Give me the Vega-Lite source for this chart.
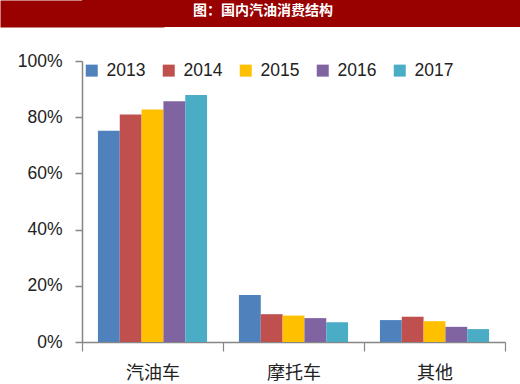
{
  "$schema": "https://vega.github.io/schema/vega-lite/v6.json",
  "padding": 0,
  "background": "white",
  "spacing": 25,
  "resolve": {"legend": {"color": "independent"}},
  "config": {
    "view": {"stroke": null},
    "axis": {"grid": false}
  },
  "vconcat": [
    {
      "width": 438,
      "height": 27,
      "view": {"fill": "#990000", "stroke": null},
      "data": {"values": [{"t": "图：国内汽油消费结构"}]},
      "mark": {"type": "text", "color": "white", "font": "Noto Sans CJK SC", "fontSize": 14, "fontWeight": "bold", "dx": -38, "dy": -3},
      "encoding": {
        "text": {"field": "t", "type": "nominal"},
        "y": {
          "field": "t", "type": "nominal",
          "axis": {"title": null, "labels": false, "ticks": false, "domain": true, "domainColor": "#990000", "domainWidth": 164, "offset": 0, "minExtent": 82, "maxExtent": 82, "titlePadding": 0}
        }
      }
    },
    {
      "width": 423,
      "height": 281,
      "data": {
        "values": [
          {"cat": "汽油车", "year": "2013", "v": 75.2},
          {"cat": "汽油车", "year": "2014", "v": 81.0},
          {"cat": "汽油车", "year": "2015", "v": 82.7},
          {"cat": "汽油车", "year": "2016", "v": 85.7},
          {"cat": "汽油车", "year": "2017", "v": 87.9},
          {"cat": "摩托车", "year": "2013", "v": 16.7},
          {"cat": "摩托车", "year": "2014", "v": 9.9},
          {"cat": "摩托车", "year": "2015", "v": 9.4},
          {"cat": "摩托车", "year": "2016", "v": 8.5},
          {"cat": "摩托车", "year": "2017", "v": 7.0},
          {"cat": "其他", "year": "2013", "v": 7.8},
          {"cat": "其他", "year": "2014", "v": 9.0},
          {"cat": "其他", "year": "2015", "v": 7.4},
          {"cat": "其他", "year": "2016", "v": 5.4},
          {"cat": "其他", "year": "2017", "v": 4.6}
        ]
      },
      "mark": {"type": "bar"},
      "encoding": {
        "x": {
          "field": "cat", "type": "nominal", "sort": ["汽油车", "摩托车", "其他"],
          "scale": {"paddingInner": 0, "paddingOuter": 0},
          "axis": {"title": null, "labelAngle": 0, "tickBand": "extent", "domainColor": "#868686", "tickColor": "#868686", "domainWidth": 1.5, "tickWidth": 1.2, "tickSize": 9, "labelPadding": 13, "labelFont": "Noto Sans CJK SC", "labelFontSize": 18, "labelColor": "#222"}
        },
        "xOffset": {"field": "year", "type": "nominal", "scale": {"paddingInner": 0, "paddingOuter": 0.73}},
        "y": {
          "field": "v", "type": "quantitative",
          "scale": {"domain": [0, 100]},
          "axis": {"title": null, "values": [0, 20, 40, 60, 80, 100], "labelExpr": "datum.value + '%'", "domainColor": "#868686", "tickColor": "#868686", "domainWidth": 1.5, "tickWidth": 1.5, "tickSize": 7, "labelPadding": 13, "labelFont": "Liberation Sans", "labelFontSize": 17.5, "labelColor": "#222", "minExtent": 82, "maxExtent": 82, "titlePadding": 0}
        },
        "color": {
          "field": "year", "type": "nominal",
          "scale": {"range": ["#4F81BD", "#C0504D", "#FFC000", "#8064A2", "#4BACC6"]},
          "legend": {"orient": "none", "legendX": 1, "legendY": 0.5, "direction": "horizontal", "title": null, "symbolType": "square", "symbolSize": 144, "symbolStrokeWidth": 0, "labelFont": "Liberation Sans", "labelFontSize": 17.5, "labelColor": "#222", "labelOffset": 6, "columnPadding": 14, "padding": 0}
        }
      }
    }
  ]
}
